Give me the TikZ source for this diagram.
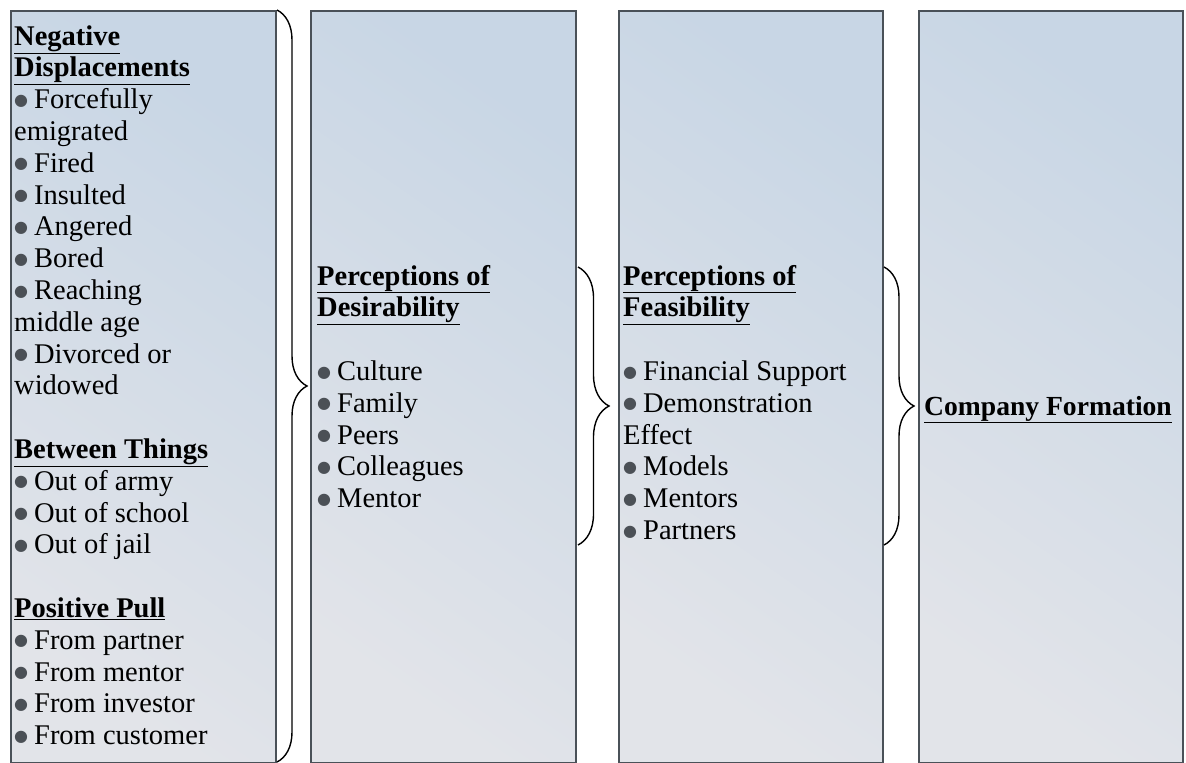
\documentclass[tikz,border=0pt]{standalone}
\usepackage{fontspec}
\setmainfont{Liberation Serif}
\newfontfamily\symbolfont{DejaVu Sans}
\usetikzlibrary{decorations.pathreplacing}

\definecolor{boxtop}{HTML}{C8D6E5}
\definecolor{boxbot}{HTML}{E2E4E9}
\definecolor{boxline}{HTML}{4A5158}
\definecolor{bulcol}{HTML}{4B5056}

% bullet item and underlined bold heading
\newcommand\itm{\raisebox{3.5pt}{\textcolor{bulcol}{\symbolfont\fontsize{16}{16}\selectfont ●}}\hspace{6pt}}
\newcommand\hd[1]{\underline{\textbf{#1}}}

\begin{document}
\begin{tikzpicture}[x=1pt,y=-1pt,
  panel/.style={rectangle, draw=boxline, line width=1.7pt, inner sep=0pt,
    anchor=north west, minimum height=752pt,
    top color=boxtop, bottom color=boxbot, shading angle=-35},
  listtext/.style={anchor=north west, inner sep=0pt, align=left,
    font=\fontsize{28.5}{31.8}\selectfont},
  brace/.style={draw=black, line width=1.4pt, decorate,
    decoration={brace, amplitude=#1}}]

% canvas
\path[use as bounding box, fill=white] (0,0) rectangle (1186,763);

% the four panels
\node[panel, minimum width=265pt] (b1) at (10,10) {};
\node[panel, minimum width=265pt] (b2) at (310,10) {};
\node[panel, minimum width=264pt] (b3) at (618,10) {};
\node[panel, minimum width=264pt] (b4) at (918,10) {};

% panel texts
\node[listtext] (t1) at (14,22.7) {\strut\hd{Negative}\\
  \hd{Displacements}\\
  \itm Forcefully\\
  emigrated\\
  \itm Fired\\
  \itm Insulted\\
  \itm Angered\\
  \itm Bored\\
  \itm Reaching\\
  middle age\\
  \itm Divorced or\\
  widowed\\
  \mbox{}\\
  \hd{Between Things}\\
  \itm Out of army\\
  \itm Out of school\\
  \itm Out of jail\\
  \mbox{}\\
  \hd{Positive Pull}\\
  \itm From partner\\
  \itm From mentor\\
  \itm From investor\\
  \itm From customer};

\node[listtext] (t2) at (317,262.7) {\strut\hd{Perceptions of}\\
  \hd{Desirability}\\
  \mbox{}\\
  \itm Culture\\
  \itm Family\\
  \itm Peers\\
  \itm Colleagues\\
  \itm Mentor};

\node[listtext] (t3) at (623,262.7) {\strut\hd{Perceptions of}\\
  \hd{Feasibility}\\
  \mbox{}\\
  \itm Financial Support\\
  \itm Demonstration\\
  Effect\\
  \itm Models\\
  \itm Mentors\\
  \itm Partners};

\node[anchor=base west, inner sep=0pt, font=\fontsize{27.6}{31.8}\selectfont]
  (t4) at (924,415) {\hd{Company Formation}};

% braces between the panels
\coordinate (br1a) at (277,10);
\coordinate (br1b) at (277,762);
\coordinate (br2a) at (578,267);
\coordinate (br2b) at (578,545);
\coordinate (br3a) at (884,267);
\coordinate (br3b) at (884,545);
\draw[brace=30pt] (br1a) -- (br1b);
\draw[brace=31pt] (br2a) -- (br2b);
\draw[brace=30pt] (br3a) -- (br3b);
\end{tikzpicture}
\end{document}
